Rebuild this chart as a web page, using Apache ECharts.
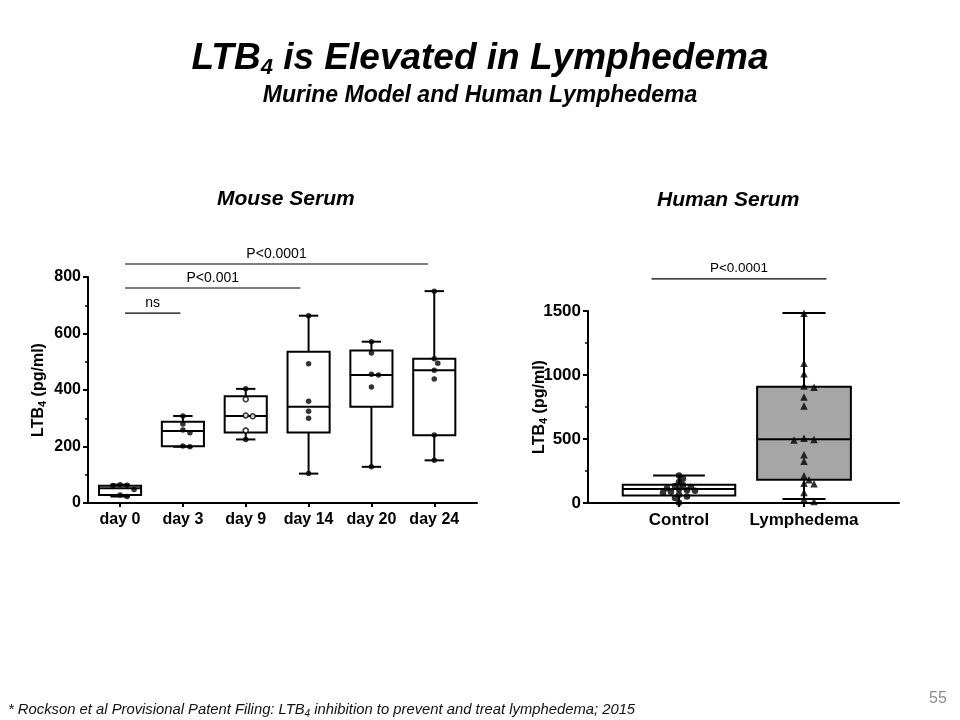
<!DOCTYPE html>
<html><head><meta charset="utf-8">
<script src="https://cdn.jsdelivr.net/npm/echarts@6/dist/echarts.min.js"></script>
<style>html,body{margin:0;padding:0;background:#fff}#c{width:960px;height:720px}</style>
</head><body><div id="c"></div>
<script>
// ---------- Mouse serum ----------
const mouseDays = ['day 0', 'day 3', 'day 9', 'day 14', 'day 20', 'day 24'];
const mouseMin    = [23, 199, 225, 104, 128, 151];
const mouseQ1     = [28, 201, 250, 250, 341, 240];
const mouseMedian = [52, 255, 308, 341, 453, 470];
const mouseQ3     = [61, 288, 378, 535, 540, 511];
const mouseMax    = [65, 308, 404, 663, 571, 750];
const mousePointsFilled = [
  [65, 63, 62, 48, 28, 23],
  [308, 280, 258, 249, 202, 199],
  [404, 225],
  [663, 493, 360, 325, 300, 104],
  [571, 531, 456, 453, 411, 128],
  [750, 511, 495, 470, 439, 241, 151]
];
const mousePointsOpen = [[], [], [367, 310, 307, 257], [], [], []];
const mouseBrackets = [
  { from: 0.08, to: 4.9, y: 846, label: 'P<0.0001' },
  { from: 0.08, to: 2.87, y: 761, label: 'P<0.001' },
  { from: 0.08, to: 0.96, y: 672, label: 'ns' }
];

// ---------- Human serum ----------
const humanGroups = ['Control', 'Lymphedema'];
const humanMin    = [0, 31];
const humanQ1     = [59, 181];
const humanMedian = [109, 499];
const humanQ3     = [142, 908];
const humanMax    = [215, 1484];
const controlPoints = [215, 190, 165, 140, 132, 125, 115, 108, 100, 95, 88, 80, 65, 50, 40, 2];
const lymphedemaPoints = [1482, 1091, 1010, 915, 905, 828, 757, 505, 497, 493, 377, 326, 212, 182, 155, 150, 82, 31, 12];
const humanBrackets = [
  { from: -0.22, to: 1.18, y: 1751, label: 'P<0.0001' }
];

// ---------- styling / helpers ----------
const FONT = "'Liberation Sans', Arial, Helvetica, sans-serif";
const mouseBoxWidth = [0.67, 0.67, 0.67, 0.67, 0.67, 0.67];
const humanBoxWidth = [0.9, 0.75];
const humanBoxFill = ['#ffffff', '#a6a6a6'];

const MOUSE_GRID = { left: 88, right: 483, top: 277, bottom: 217 };
const HUMAN_GRID = { left: 588, right: 61, top: 311, bottom: 217 };

function boxRender(widthFrac, fills) {
  return function (params, api) {
    const i = params.dataIndex;
    const x = api.value(0);
    const bw = api.size([1, 0])[0] * widthFrac[i];
    const pMin = api.coord([x, api.value(1)]);
    const pQ1 = api.coord([x, api.value(2)]);
    const pMed = api.coord([x, api.value(3)]);
    const pQ3 = api.coord([x, api.value(4)]);
    const pMax = api.coord([x, api.value(5)]);
    const cx = pMin[0];
    const cap = bw * 0.46;
    const ls = { stroke: '#000', lineWidth: 2 };
    return {
      type: 'group',
      children: [
        { type: 'line', shape: { x1: cx, y1: pMax[1], x2: cx, y2: pQ3[1] }, style: ls },
        { type: 'line', shape: { x1: cx, y1: pQ1[1], x2: cx, y2: pMin[1] }, style: ls },
        { type: 'line', shape: { x1: cx - cap / 2, y1: pMax[1], x2: cx + cap / 2, y2: pMax[1] }, style: ls },
        { type: 'line', shape: { x1: cx - cap / 2, y1: pMin[1], x2: cx + cap / 2, y2: pMin[1] }, style: ls },
        { type: 'rect', shape: { x: cx - bw / 2, y: pQ3[1], width: bw, height: pQ1[1] - pQ3[1] },
          style: { fill: fills ? fills[i] : '#fff', stroke: '#000', lineWidth: 2 } },
        { type: 'line', shape: { x1: cx - bw / 2, y1: pMed[1], x2: cx + bw / 2, y2: pMed[1] }, style: ls }
      ]
    };
  };
}

function bracketRender(list, fontSize, gap) {
  return function (params, api) {
    const b = list[params.dataIndex];
    const p1 = api.coord([b.from, b.y]);
    const p2 = api.coord([b.to, b.y]);
    return {
      type: 'group',
      children: [
        { type: 'line', shape: { x1: p1[0], y1: p1[1], x2: p2[0], y2: p2[1] }, style: { stroke: '#000', lineWidth: 1.2 } },
        { type: 'text', x: (p1[0] + p2[0]) / 2, y: p1[1] - gap,
          style: { text: b.label, textAlign: 'center', textVerticalAlign: 'bottom', fontSize: fontSize, fontFamily: FONT, fill: '#000' } }
      ]
    };
  };
}

// simple beeswarm offset so overlapping points sit side by side
function swarm(groupIdx, values, pxPerUnit, sizePx, stepPx) {
  const placed = [];
  return values.map(v => {
    const y = v * pxPerUnit;
    const cands = [0, stepPx, -stepPx, 2 * stepPx, -2 * stepPx, 3 * stepPx, -3 * stepPx, 4 * stepPx, -4 * stepPx];
    let dx = cands[cands.length - 1];
    for (const c of cands) {
      if (placed.every(p => Math.hypot(p.x - c, p.y - y) >= sizePx)) { dx = c; break; }
    }
    placed.push({ x: dx, y: y });
    return { value: [groupIdx, v], symbolOffset: [dx, 0] };
  });
}

const mousePx = (720 - MOUSE_GRID.top - MOUSE_GRID.bottom) / 800;
const humanPx = (720 - HUMAN_GRID.top - HUMAN_GRID.bottom) / 1500;

let mouseFilledData = [], mouseOpenData = [];
mouseDays.forEach((d, i) => {
  const all = mousePointsFilled[i].map(v => ({ v, open: false })).concat(mousePointsOpen[i].map(v => ({ v, open: true })));
  all.sort((a, b) => b.v - a.v);
  const sw = swarm(i, all.map(a => a.v), mousePx, 5.5, 3.5);
  sw.forEach((item, k) => { (all[k].open ? mouseOpenData : mouseFilledData).push(item); });
});
const controlData = swarm(0, controlPoints, humanPx, 5, 4);
const lymphData = swarm(1, lymphedemaPoints, humanPx, 6, 5);

const axisNameRich = {
  b: { fontSize: 16, fontWeight: 'bold', fontFamily: FONT, color: '#000', lineHeight: 18 },
  s: { fontSize: 11, fontWeight: 'bold', fontFamily: FONT, color: '#000', lineHeight: 8, verticalAlign: 'bottom' }
};
const yAxisName = '{b|LTB}{s|4}{b| (pg/ml)}';

function yAxisCommon(gridIndex, max, interval, labelSize, nameGap) {
  return {
    type: 'value', gridIndex, min: 0, max, interval,
    name: yAxisName, nameLocation: 'middle', nameRotate: 90, nameGap, nameMoveOverlap: false,
    nameTextStyle: { rich: axisNameRich },
    axisLine: { show: true, onZero: false, lineStyle: { color: '#000', width: 2 } },
    axisTick: { show: true, length: 5, lineStyle: { color: '#000', width: 2 } },
    minorTick: { show: true, splitNumber: 2, length: 3, lineStyle: { color: '#000', width: 1.5 } },
    splitLine: { show: false },
    axisLabel: { color: '#000', fontSize: labelSize, fontWeight: 'bold', fontFamily: FONT, margin: 7, formatter: v => String(v) }
  };
}

function catValueXAxis(gridIndex, min, max, names, fontSize) {
  const idx = names.map((n, i) => i);
  return {
    type: 'value', gridIndex, min, max,
    axisLine: { onZero: false, lineStyle: { color: '#000', width: 2 } },
    axisTick: { show: true, length: 4, customValues: idx, lineStyle: { color: '#000', width: 2 } },
    axisLabel: { customValues: idx, formatter: v => names[Math.round(v)], color: '#000', fontSize, fontWeight: 'bold', fontFamily: FONT, margin: 9 },
    splitLine: { show: false }
  };
}

const NARROW = "'Liberation Sans Narrow', 'Arial Narrow', " + FONT;

const option = {
  backgroundColor: '#fff',
  animation: false,
  title: [
    { text: '{t|LTB}{s|4}{t| is Elevated in Lymphedema}', left: 'center', top: 34,
      textStyle: { rich: {
        t: { fontSize: 37, fontWeight: 'bold', fontStyle: 'italic', fontFamily: FONT, color: '#000', lineHeight: 40 },
        s: { fontSize: 22, fontWeight: 'bold', fontStyle: 'italic', fontFamily: FONT, color: '#000', lineHeight: 14, verticalAlign: 'bottom' }
      } } },
    { text: 'Murine Model and Human Lymphedema', left: 'center', top: 79,
      textStyle: { fontSize: 23, fontWeight: 'bold', fontStyle: 'italic', fontFamily: FONT, color: '#000' } },
    { text: 'Mouse Serum', left: 212, top: 184,
      textStyle: { fontSize: 21, fontWeight: 'bold', fontStyle: 'italic', fontFamily: FONT, color: '#000' } },
    { text: 'Human Serum', left: 652, top: 185,
      textStyle: { fontSize: 21, fontWeight: 'bold', fontStyle: 'italic', fontFamily: FONT, color: '#000' } },
    { text: '{f|* Rockson et al Provisional Patent Filing: LTB}{s|4}{f| inhibition to prevent and treat lymphedema; 2015}',
      left: 3, top: 696,
      textStyle: { rich: {
        f: { fontSize: 14.8, fontWeight: 'normal', fontStyle: 'italic', fontFamily: NARROW, color: '#111', lineHeight: 18 },
        s: { fontSize: 10, fontWeight: 'normal', fontStyle: 'italic', fontFamily: NARROW, color: '#111', lineHeight: 8, verticalAlign: 'bottom' }
      } } },
    { text: '55', left: 924, top: 686,
      textStyle: { fontSize: 16, fontWeight: 'normal', fontFamily: NARROW, color: '#8c8c8c' } }
  ],
  grid: [
    { left: MOUSE_GRID.left, right: MOUSE_GRID.right, top: MOUSE_GRID.top, bottom: MOUSE_GRID.bottom },
    { left: HUMAN_GRID.left, right: HUMAN_GRID.right, top: HUMAN_GRID.top, bottom: HUMAN_GRID.bottom }
  ],
  xAxis: [
    catValueXAxis(0, -0.51, 5.68, mouseDays, 16),
    catValueXAxis(1, -0.728, 1.76, humanGroups, 17)
  ],
  yAxis: [
    yAxisCommon(0, 800, 200, 16, 40),
    yAxisCommon(1, 1500, 500, 17, 39)
  ],
  series: [
    { type: 'custom', xAxisIndex: 0, yAxisIndex: 0, z: 2,
      data: mouseDays.map((d, i) => [i, mouseMin[i], mouseQ1[i], mouseMedian[i], mouseQ3[i], mouseMax[i]]),
      encode: { x: 0, y: [1, 2, 3, 4, 5] },
      renderItem: boxRender(mouseBoxWidth, null) },
    { type: 'scatter', xAxisIndex: 0, yAxisIndex: 0, z: 5, symbol: 'circle', symbolSize: 5.5,
      itemStyle: { color: '#000' }, data: mouseFilledData },
    { type: 'scatter', xAxisIndex: 0, yAxisIndex: 0, z: 5, symbol: 'circle', symbolSize: 5,
      itemStyle: { color: '#fff', borderColor: '#000', borderWidth: 1.5 }, data: mouseOpenData },
    { type: 'custom', xAxisIndex: 0, yAxisIndex: 0, z: 3, clip: false,
      data: mouseBrackets.map(b => [b.from, b.y]), encode: { x: 0, y: 1 },
      renderItem: bracketRender(mouseBrackets, 14, 3) },

    { type: 'custom', xAxisIndex: 1, yAxisIndex: 1, z: 2,
      data: humanGroups.map((g, i) => [i, humanMin[i], humanQ1[i], humanMedian[i], humanQ3[i], humanMax[i]]),
      encode: { x: 0, y: [1, 2, 3, 4, 5] },
      renderItem: boxRender(humanBoxWidth, humanBoxFill) },
    { type: 'scatter', xAxisIndex: 1, yAxisIndex: 1, z: 5, symbol: 'circle', symbolSize: 6.5,
      itemStyle: { color: '#000' }, data: controlData },
    { type: 'scatter', xAxisIndex: 1, yAxisIndex: 1, z: 5, symbol: 'triangle', symbolSize: 7.5,
      itemStyle: { color: '#000' }, data: lymphData },
    { type: 'custom', xAxisIndex: 1, yAxisIndex: 1, z: 3, clip: false,
      data: humanBrackets.map(b => [b.from, b.y]), encode: { x: 0, y: 1 },
      renderItem: bracketRender(humanBrackets, 13.5, 4) }
  ]
};
const chart = echarts.init(document.getElementById('c'), null, { renderer: 'canvas' });
chart.setOption(option);
</script>
</body></html>
